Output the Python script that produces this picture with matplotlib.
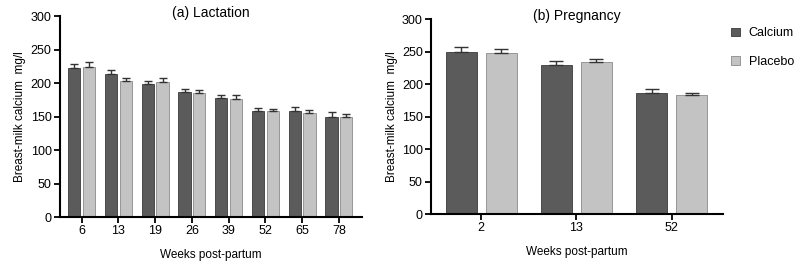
import numpy as np
import matplotlib.pyplot as plt
from matplotlib.patches import Patch

plt.rcParams['font.family'] = ['Liberation Sans', 'DejaVu Sans']

# (a) Lactation
lact_weeks = ['6', '13', '19', '26', '39', '52', '65', '78']
lact_calcium = [223, 214, 199, 187, 178, 158, 158, 149]
lact_calcium_err = [6, 5, 4, 4, 4, 5, 6, 8]
lact_placebo = [224, 203, 201, 186, 177, 158, 155, 149]
lact_placebo_err = [7, 5, 6, 4, 5, 4, 5, 5]

# (b) Pregnancy
preg_weeks = ['2', '13', '52']
preg_calcium = [250, 230, 187]
preg_calcium_err = [7, 6, 5.5]
preg_placebo = [248, 234.5, 183]
preg_placebo_err = [6, 3.5, 4]

dark = '#5b5b5b'
light = '#c3c3c3'
edge_dark = '#3a3a3a'
edge_light = '#8a8a8a'


def draw_panel(ax, labels, calc, calc_err, plac, plac_err, width, offset, capsize, xlim, title):
    x = np.arange(len(labels))
    ax.bar(x - offset, calc, width, color=dark, edgecolor=edge_dark, linewidth=0.6,
           yerr=[np.zeros(len(calc)), calc_err], capsize=capsize,
           error_kw=dict(ecolor='#333333', elinewidth=1.0, capthick=1.0))
    ax.bar(x + offset, plac, width, color=light, edgecolor=edge_light, linewidth=0.6,
           yerr=[np.zeros(len(plac)), plac_err], capsize=capsize,
           error_kw=dict(ecolor='#333333', elinewidth=1.0, capthick=1.0))
    ax.set_xticks(x)
    ax.set_xticklabels(labels)
    ax.set_xlim(*xlim)
    ax.set_ylim(0, 300)
    ax.set_yticks(range(0, 301, 50))
    for s in ['top', 'right']:
        ax.spines[s].set_visible(False)
    for s in ['left', 'bottom']:
        ax.spines[s].set_linewidth(1.5)
    ax.tick_params(axis='both', direction='out', length=4, width=1.3, labelsize=9, pad=2)
    ax.set_ylabel('Breast-milk calcium  mg/l', fontsize=8.5, labelpad=3)
    ax.set_xlabel('Weeks post-partum', fontsize=8.5, labelpad=8)
    ax.text(0.5, 1.015, title, transform=ax.transAxes, ha='center', va='center', fontsize=10)


fig = plt.figure(figsize=(8, 2.7), dpi=100)
ax1 = fig.add_axes([0.075, 0.196, 0.3775, 0.744])
ax2 = fig.add_axes([0.539, 0.207, 0.365, 0.722])

draw_panel(ax1, lact_weeks, lact_calcium, lact_calcium_err, lact_placebo, lact_placebo_err,
           0.33, 0.2, 3.2, (-0.59, 7.63), '(a) Lactation')
draw_panel(ax2, preg_weeks, preg_calcium, preg_calcium_err, preg_placebo, preg_placebo_err,
           0.325, 0.21, 4.7, (-0.525, 2.54), '(b) Pregnancy')

handles = [Patch(facecolor=dark, edgecolor=edge_dark, linewidth=0.6, label='Calcium'),
           Patch(facecolor=light, edgecolor=edge_light, linewidth=0.6, label='Placebo')]
fig.legend(handles=handles, loc='upper left', bbox_to_anchor=(0.9, 0.94), frameon=False,
           fontsize=9, handlelength=0.7, handleheight=0.7, handletextpad=0.7, labelspacing=1.3)

fig.savefig('out.png', dpi=100)
